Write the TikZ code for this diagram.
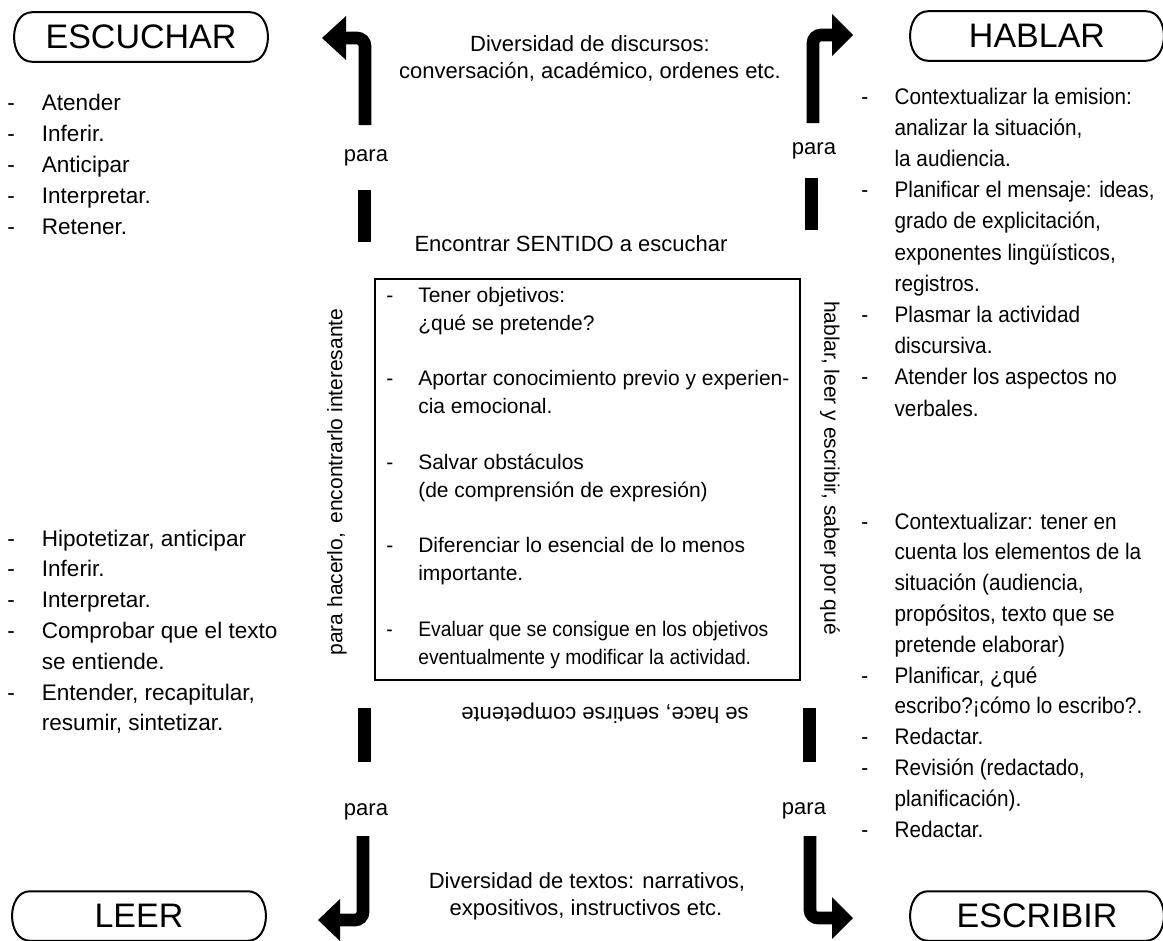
\documentclass[tikz,border=0pt]{standalone}
\usepackage{fontspec}
\setmainfont{Liberation Sans}
\newfontfamily\narrowsans[FakeStretch=0.92]{Liberation Sans}
\begin{document}
\begin{tikzpicture}[x=0.75pt,y=-0.75pt,
  pill/.style={inner sep=0pt, minimum width=195pt, minimum height=36.75pt,
    font=\fontsize{25.5}{30}\selectfont},
  pillline/.style={line width=1.5pt},
  arrowline/.style={line width=9.5pt, rounded corners=6pt},
  barline/.style={line width=9.75pt},
  lbl/.style={inner sep=0pt, font=\fontsize{16.5}{20}\selectfont},
  paralbl/.style={lbl, anchor=base},
  listL/.style={anchor=base west, inner sep=0pt, font=\fontsize{16.9}{23.25}\selectfont},
  listR/.style={anchor=base west, inner sep=0pt, font=\narrowsans\fontsize{16.9}{23.4}\selectfont},
  boxitem/.style={anchor=base west, inner sep=0pt, font=\fontsize{15.75}{21}\selectfont},
  sidelbl/.style={inner sep=0pt, font=\fontsize{15.75}{20}\selectfont}
]
\useasboundingbox (0,0) rectangle (1163,940);
\newcommand\pillpath[1]{%
  \draw[pillline] ([xshift=16pt]#1.north west) -- ([xshift=-16pt]#1.north east)
    .. controls ([xshift=2pt]#1.north east) and ([xshift=2pt]#1.south east) .. ([xshift=-16pt]#1.south east)
    -- ([xshift=16pt]#1.south west)
    .. controls ([xshift=-2pt]#1.south west) and ([xshift=-2pt]#1.north west) .. cycle;}

% pills
\node[pill] (esc) at (141,37) {ESCUCHAR};
\node[pill] (hab) at (1037,36) {HABLAR};
\node[pill] (lee) at (139,916) {LEER};
\node[pill] (escr) at (1037,916) {ESCRIBIR};
\pillpath{esc}
\pillpath{hab}
\pillpath{lee}
\pillpath{escr}

% top texts
\node[lbl, anchor=base] (div1) at (590,51) {Diversidad de discursos:};
\node[lbl, anchor=base] (div2) at (590,78) {conversación, académico, ordenes etc.};
\node[lbl, anchor=base] (sent) at (571,251) {Encontrar SENTIDO a escuchar};

% bottom texts
\node[lbl, anchor=base] (dt1) at (587,888) {Diversidad de textos: narrativos,};
\node[lbl, anchor=base] (dt2) at (586,915) {expositivos, instructivos etc.};
\node[lbl, rotate=180] (hace) at (605,713) {se hace, sentirse competente};

% para labels
\node[paralbl] (p1) at (366,161) {para};
\node[paralbl] (p2) at (814,154) {para};
\node[paralbl] (p3) at (366,815) {para};
\node[paralbl] (p4) at (804,814) {para};

% arrow top-left
\coordinate (tlS) at (365,125);
\coordinate (tlH) at (346,38);
\draw[arrowline] (tlS) |- (tlH);
\fill (346,16) -- (322,38) -- (346,60) -- cycle;
% arrow top-right
\coordinate (trS) at (813,123);
\coordinate (trH) at (832,35);
\draw[arrowline] (trS) |- (trH);
\fill (832,14) -- (853,35) -- (832,56) -- cycle;
% arrow bottom-left
\coordinate (blS) at (363,836);
\coordinate (blH) at (340,920);
\draw[arrowline] (blS) |- (blH);
\fill (340,899) -- (318,920) -- (340,941) -- cycle;
% arrow bottom-right
\coordinate (brS) at (810,836);
\coordinate (brH) at (832,918);
\draw[arrowline] (brS) |- (brH);
\fill (832,897) -- (853,918) -- (832,939) -- cycle;

% bars
\coordinate (b1a) at (364,190); \coordinate (b1b) at (364,242);
\draw[barline] (b1a) -- (b1b);
\coordinate (b2a) at (811,178); \coordinate (b2b) at (811,230);
\draw[barline] (b2a) -- (b2b);
\coordinate (b3a) at (364,708); \coordinate (b3b) at (364,762);
\draw[barline] (b3a) -- (b3b);
\coordinate (b4a) at (809,708); \coordinate (b4b) at (809,762);
\draw[barline] (b4a) -- (b4b);

% central box
\draw[line width=1.5pt] (375,279) rectangle (800,680);
\node[boxitem] (i1) at (386,302) {\begin{tabular}[t]{@{}p{24pt}@{}l@{}}-&Tener objetivos:\\&¿qué se pretende?\end{tabular}};
\node[boxitem] (i2) at (386,385) {\begin{tabular}[t]{@{}p{24pt}@{}l@{}}-&Aportar conocimiento previo y experien-\\&cia emocional.\end{tabular}};
\node[boxitem] (i3) at (386,469) {\begin{tabular}[t]{@{}p{24pt}@{}l@{}}-&Salvar obstáculos\\&(de comprensión de expresión)\end{tabular}};
\node[boxitem] (i4) at (386,552) {\begin{tabular}[t]{@{}p{24pt}@{}l@{}}-&Diferenciar lo esencial de lo menos\\&importante.\end{tabular}};
\node[boxitem, font=\narrowsans\fontsize{15.75}{21}\selectfont] (i5) at (386,636) {\begin{tabular}[t]{@{}p{24pt}@{}l@{}}-&Evaluar que se consigue en los objetivos\\&eventualmente y modificar la actividad.\end{tabular}};

% side rotated texts
\node[sidelbl, rotate=90] (sl) at (337,482) {para hacerlo,\, encontrarlo interesante};
\node[sidelbl, rotate=-90] (sr) at (830,468) {hablar, leer y escribir, saber por qué};

% left lists
\node[listL] (escL) at (7,110) {\begin{tabular}[t]{@{}p{26pt}@{}l@{}}
-&Atender\\-&Inferir.\\-&Anticipar\\-&Interpretar.\\-&Retener.\end{tabular}};
\node[listL, font=\fontsize{16.9}{23.1}\selectfont] (leeL) at (7,546) {\begin{tabular}[t]{@{}p{26pt}@{}l@{}}
-&Hipotetizar, anticipar\\-&Inferir.\\-&Interpretar.\\-&Comprobar que el texto\\&se entiende.\\-&Entender, recapitular,\\&resumir, sintetizar.\end{tabular}};

% right lists
\node[listR] (habL) at (861,104) {\begin{tabular}[t]{@{}p{25pt}@{}l@{}}
-&Contextualizar la emision:\\&analizar la situación,\\&la audiencia.\\
-&Planificar el mensaje: ideas,\\&grado de explicitación,\\&exponentes lingüísticos,\\&registros.\\
-&Plasmar la actividad\\&discursiva.\\-&Atender los aspectos no\\&verbales.\end{tabular}};
\node[listR, font=\narrowsans\fontsize{16.9}{23.1}\selectfont] (escrL) at (861,529) {\begin{tabular}[t]{@{}p{25pt}@{}l@{}}
-&Contextualizar: tener en\\&cuenta los elementos de la\\&situación (audiencia,\\&propósitos, texto que se\\&pretende elaborar)\\
-&Planificar, ¿qué\\&escribo?¡cómo lo escribo?.\\-&Redactar.\\-&Revisión (redactado,\\&planificación).\\-&Redactar.\end{tabular}};
\end{tikzpicture}
\end{document}
